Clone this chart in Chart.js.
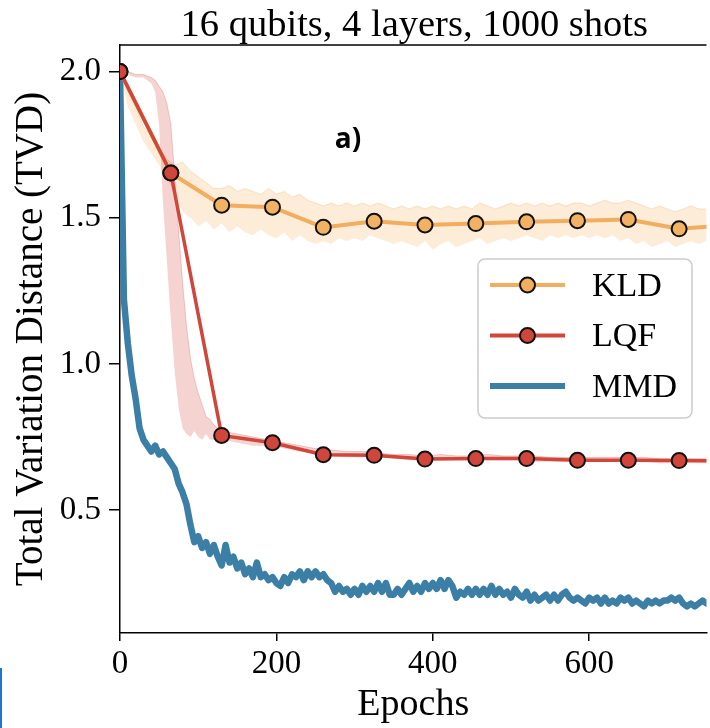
<!DOCTYPE html>
<html>
<head>
<meta charset="utf-8">
<script src="https://cdn.jsdelivr.net/npm/chart.js@4.4.1/dist/chart.umd.min.js"></script>
<style>
  html, body { margin: 0; padding: 0; background: #fff; overflow: hidden; }
  #wrap { position: relative; width: 710px; height: 728px; overflow: hidden; }
  #edge { position: absolute; left: 0; top: 668px; width: 2px; height: 60px; background: #1f74d6; }
</style>
</head>
<body>
<div id="wrap">
  <canvas id="tvdChart" width="716" height="728"></canvas>
  <div id="edge"></div>
</div>
<script>
// epochs where the mean curves carry a marker
const markEpochs = [0, 65, 130, 195, 260, 325, 390, 455, 520, 585, 650, 715, 780];
const kldMean = [2.0, 1.653, 1.543, 1.536, 1.467, 1.488, 1.475, 1.480, 1.486, 1.490, 1.494, 1.462, 1.475];
const lqfMean = [2.0, 1.653, 0.755, 0.730, 0.689, 0.687, 0.674, 0.676, 0.676, 0.670, 0.670, 0.669, 0.668];

// MMD, one value every 5 epochs (0 .. 750)
const mmdStep = 5;
const mmdValues = [
  2.00, 1.22, 1.07, 0.96, 0.88, 0.78, 0.74, 0.72, 0.70, 0.72,
  0.69, 0.70, 0.68, 0.66, 0.64, 0.59, 0.56, 0.52, 0.45, 0.39,
  0.41, 0.37, 0.39, 0.35, 0.38, 0.34, 0.31, 0.38, 0.32, 0.34,
  0.30, 0.32, 0.28, 0.30, 0.27, 0.32, 0.27, 0.28, 0.26, 0.27,
  0.25, 0.24, 0.27, 0.25, 0.28, 0.27, 0.29, 0.26, 0.29, 0.27,
  0.29, 0.27, 0.28, 0.26, 0.25, 0.22, 0.24, 0.22, 0.23, 0.21,
  0.23, 0.21, 0.24, 0.22, 0.24, 0.22, 0.25, 0.22, 0.25, 0.21,
  0.21, 0.23, 0.21, 0.23, 0.25, 0.22, 0.24, 0.22, 0.25, 0.23,
  0.25, 0.23, 0.26, 0.23, 0.26, 0.24, 0.20, 0.22, 0.21, 0.23,
  0.21, 0.23, 0.21, 0.23, 0.21, 0.24, 0.21, 0.23, 0.21, 0.22,
  0.20, 0.23, 0.21, 0.20, 0.22, 0.19, 0.21, 0.19, 0.20, 0.21,
  0.19, 0.21, 0.19, 0.21, 0.22, 0.20, 0.19, 0.20, 0.19, 0.18,
  0.20, 0.19, 0.20, 0.18, 0.20, 0.18, 0.19, 0.18, 0.20, 0.19,
  0.20, 0.18, 0.19, 0.18, 0.17, 0.19, 0.18, 0.19, 0.18, 0.19,
  0.19, 0.20, 0.19, 0.20, 0.18, 0.17, 0.18, 0.17, 0.18, 0.19,
  0.18
];

// KLD spread, every 10 epochs (0 .. 750)
const kldBandStep = 10;
const kldLower = [
  2.00, 1.88, 1.82, 1.76, 1.72, 1.68, 1.63, 1.58, 1.52, 1.50,
  1.47, 1.49, 1.46, 1.48, 1.45, 1.47, 1.45, 1.44, 1.46, 1.44,
  1.43, 1.45, 1.42, 1.44, 1.42, 1.41, 1.42, 1.41, 1.43, 1.42,
  1.43, 1.42, 1.44, 1.43, 1.42, 1.41, 1.42, 1.41, 1.40, 1.42,
  1.39, 1.41, 1.42, 1.40, 1.41, 1.42, 1.43, 1.41, 1.42, 1.43,
  1.42, 1.43, 1.44, 1.43, 1.42, 1.44, 1.43, 1.44, 1.43, 1.44,
  1.43, 1.44, 1.43, 1.44, 1.42, 1.43, 1.41, 1.42, 1.40, 1.41,
  1.42, 1.40, 1.41, 1.42, 1.41, 1.42
];
const kldUpper = [
  2.00, 1.93, 1.88, 1.81, 1.78, 1.74, 1.70, 1.68, 1.69, 1.66,
  1.64, 1.62, 1.60, 1.60, 1.61, 1.59, 1.60, 1.59, 1.58, 1.60,
  1.58, 1.59, 1.57, 1.58, 1.56, 1.55, 1.54, 1.55, 1.54, 1.55,
  1.54, 1.55, 1.54, 1.55, 1.54, 1.53, 1.54, 1.53, 1.54, 1.53,
  1.54, 1.53, 1.54, 1.53, 1.54, 1.53, 1.55, 1.54, 1.53, 1.54,
  1.55, 1.54, 1.55, 1.54, 1.55, 1.54, 1.55, 1.54, 1.55, 1.55,
  1.54, 1.55, 1.56, 1.55, 1.55, 1.56, 1.55, 1.54, 1.53, 1.54,
  1.53, 1.52, 1.53, 1.54, 1.53, 1.53
];

// LQF spread
const lqfBandEpochs = [0, 10, 20, 30, 40, 45, 50, 55, 60, 65, 70, 75, 80, 85, 90, 95, 100, 105, 110, 115, 120,
  130, 150, 170, 190, 210, 230, 250, 270, 290, 310, 330, 350, 370, 390, 410, 430, 450, 470, 490,
  510, 530, 550, 570, 590, 610, 630, 650, 670, 690, 710, 730, 750];
const lqfLower = [2.00, 1.99, 1.98, 1.98, 1.96, 1.93, 1.82, 1.55, 1.35, 1.15, 0.97, 0.85, 0.78, 0.76, 0.75, 0.77, 0.75, 0.74, 0.76, 0.74, 0.74,
  0.74, 0.73, 0.72, 0.72, 0.71, 0.70, 0.69, 0.685, 0.68, 0.68, 0.68, 0.675, 0.67, 0.67, 0.67, 0.67, 0.67, 0.67, 0.67,
  0.67, 0.665, 0.665, 0.665, 0.665, 0.665, 0.665, 0.665, 0.665, 0.66, 0.66, 0.66, 0.66];
const lqfUpper = [2.00, 2.00, 1.99, 1.99, 1.98, 1.97, 1.95, 1.93, 1.89, 1.82, 1.64, 1.45, 1.28, 1.13, 1.02, 0.95, 0.90, 0.86, 0.82, 0.81, 0.79,
  0.77, 0.76, 0.75, 0.74, 0.73, 0.72, 0.71, 0.705, 0.70, 0.70, 0.695, 0.69, 0.69, 0.685, 0.69, 0.685, 0.685, 0.69, 0.685,
  0.685, 0.685, 0.68, 0.68, 0.68, 0.68, 0.68, 0.68, 0.68, 0.675, 0.675, 0.675, 0.675];

const xTicks = [0, 200, 400, 600];
const yTicks = [0.5, 1.0, 1.5, 2.0];
const seriesNames = ['KLD', 'LQF', 'MMD'];

const kldColor = '#f2ad5f';
const lqfColor = '#d0463a';
const mmdColor = '#3b7ea6';
const serif = "'Liberation Serif', 'Times New Roman', serif";

function pts(xs, ys) {
    return xs.map((x, i) => ({ x: x, y: ys[i] }));
}
const stepEpochs = (arr, step) => arr.map((_, i) => i * step);
const mmdEpochs = stepEpochs(mmdValues, mmdStep);
const kldBandEpochs = stepEpochs(kldLower, kldBandStep);

const decor = {
    id: 'decor',
    afterDraw(chart) {
        const ctx = chart.ctx;
        const area = chart.chartArea;
        ctx.save();
        // top spine
        ctx.strokeStyle = '#000';
        ctx.lineWidth = 1.5;
        ctx.beginPath();
        ctx.moveTo(area.left, area.top);
        ctx.lineTo(area.right, area.top);
        ctx.stroke();

        // title
        ctx.fillStyle = '#000';
        ctx.font = '38.5px ' + serif;
        ctx.textAlign = 'center';
        ctx.textBaseline = 'alphabetic';
        ctx.fillText('16 qubits, 4 layers, 1000 shots', (area.left + area.right) / 2 + 1, 36);

        // panel tag
        ctx.font = "bold 28px 'Open Sans', sans-serif";
        ctx.textBaseline = 'middle';
        ctx.fillText('a)', 348, 140);

        // legend
        const bx = 478, by = 259, bw = 214, bh = 159;
        ctx.beginPath();
        ctx.roundRect(bx, by, bw, bh, 7);
        ctx.fillStyle = 'rgba(255,255,255,0.85)';
        ctx.fill();
        ctx.strokeStyle = '#cccccc';
        ctx.lineWidth = 1.5;
        ctx.stroke();
        const colors = [kldColor, lqfColor, mmdColor];
        seriesNames.forEach((name, i) => {
            const y = 285 + i * 50.5;
            ctx.strokeStyle = colors[i];
            ctx.lineWidth = i === 2 ? 6 : 4;
            ctx.beginPath();
            ctx.moveTo(490, y);
            ctx.lineTo(565, y);
            ctx.stroke();
            if (i < 2) {
                ctx.beginPath();
                ctx.arc(527.5, y, 7.5, 0, Math.PI * 2);
                ctx.fillStyle = colors[i];
                ctx.fill();
                ctx.strokeStyle = '#111';
                ctx.lineWidth = 2;
                ctx.stroke();
            }
            ctx.fillStyle = '#000';
            ctx.font = '34px ' + serif;
            ctx.textAlign = 'left';
            ctx.textBaseline = 'middle';
            ctx.fillText(name, 592, y + 2);
        });
        ctx.restore();
    }
};

new Chart(document.getElementById('tvdChart'), {
    type: 'line',
    data: {
        datasets: [
            {
                label: 'KLD low',
                data: pts(kldBandEpochs, kldLower),
                borderWidth: 0,
                pointRadius: 0,
                fill: false,
                order: 10,
            },
            {
                label: 'KLD high',
                data: pts(kldBandEpochs, kldUpper),
                borderColor: 'rgba(242,173,95,0.3)',
                borderWidth: 1,
                backgroundColor: 'rgba(247,178,100,0.25)',
                pointRadius: 0,
                fill: '-1',
                order: 10,
            },
            {
                label: 'LQF low',
                data: pts(lqfBandEpochs, lqfLower),
                borderWidth: 0,
                pointRadius: 0,
                fill: false,
                order: 9,
            },
            {
                label: 'LQF high',
                data: pts(lqfBandEpochs, lqfUpper),
                borderColor: 'rgba(208,70,58,0.25)',
                borderWidth: 1,
                backgroundColor: 'rgba(215,80,70,0.25)',
                pointRadius: 0,
                fill: '-1',
                order: 9,
            },
            {
                label: 'MMD',
                data: pts(mmdEpochs, mmdValues),
                borderColor: mmdColor,
                borderWidth: 6.5,
                borderJoinStyle: 'round',
                borderCapStyle: 'round',
                pointRadius: 0,
                order: 3,
            },
            {
                label: 'KLD',
                data: pts(markEpochs, kldMean),
                borderColor: kldColor,
                borderWidth: 4,
                pointRadius: 7.5,
                pointBackgroundColor: '#f2b264',
                pointBorderColor: '#111',
                pointBorderWidth: 2,
                order: 2,
            },
            {
                label: 'LQF',
                data: pts(markEpochs, lqfMean),
                borderColor: lqfColor,
                borderWidth: 3.5,
                pointRadius: 7.5,
                pointBackgroundColor: lqfColor,
                pointBorderColor: '#111',
                pointBorderWidth: 2,
                order: 1,
            },
        ],
    },
    options: {
        responsive: false,
        animation: false,
        layout: { padding: { top: 45, right: 5, left: 0, bottom: 0 } },
        plugins: {
            legend: { display: false },
            tooltip: { enabled: false },
            title: { display: false },
        },
        scales: {
            x: {
                type: 'linear',
                min: 0,
                max: 750,
                afterBuildTicks: (s) => { s.ticks = xTicks.map((v) => ({ value: v })); },
                afterFit: (s) => { s.height = 95; },
                grid: { drawOnChartArea: false, tickLength: 8, color: '#000', lineWidth: 1.5 },
                border: { color: '#000', width: 1.5 },
                ticks: { color: '#000', font: { family: serif, size: 33 }, padding: 4, maxRotation: 0 },
                title: {
                    display: true,
                    text: 'Epochs',
                    color: '#000',
                    font: { family: serif, size: 38 },
                    padding: { top: 0, bottom: 0 },
                },
            },
            y: {
                type: 'linear',
                min: 0.079,
                max: 2.091,
                afterBuildTicks: (s) => { s.ticks = yTicks.map((v) => ({ value: v })); },
                afterFit: (s) => { s.width = 120; },
                grid: { drawOnChartArea: false, tickLength: 11, color: '#000', lineWidth: 1.5 },
                border: { color: '#000', width: 1.5 },
                ticks: {
                    color: '#000',
                    font: { family: serif, size: 33 },
                    padding: 8,
                    callback: (v) => v.toFixed(1),
                },
                title: {
                    display: true,
                    text: 'Total Variation Distance (TVD)',
                    color: '#000',
                    font: { family: serif, size: 39 },
                    padding: { top: 8, bottom: 0 },
                },
            },
        },
    },
    plugins: [decor],
});
</script>
</body>
</html>
